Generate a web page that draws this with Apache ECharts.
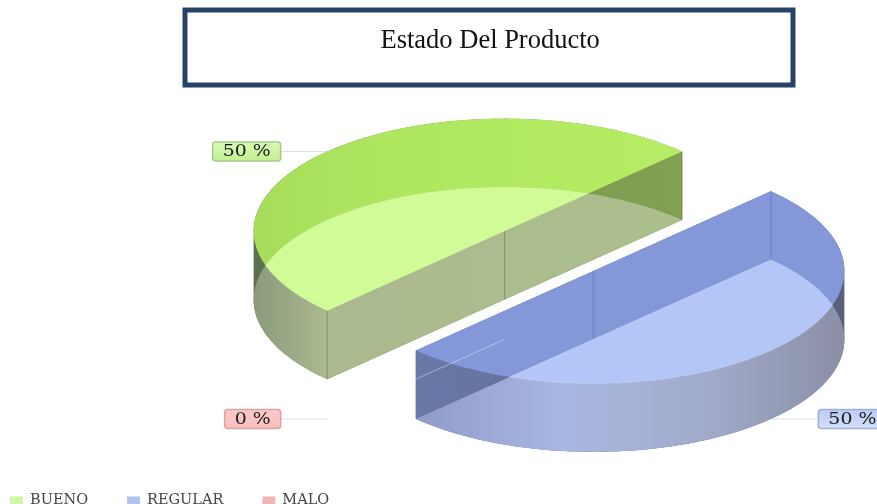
<!DOCTYPE html>
<html><head><meta charset="utf-8">
<script src="https://cdn.jsdelivr.net/npm/echarts@6/dist/echarts.min.js"></script>
<style>html,body{margin:0;padding:0;background:#fff}#c{width:877px;height:504px}</style>
</head><body><div id="c"></div>
<script>
const titleText = 'Estado Del Producto';
const categories = ['BUENO', 'REGULAR', 'MALO'];
const values = [50, 50, 0];
const swatchColors = ['#cdf7a0', '#b0c4f0', '#f3b6b6'];

// pie layout (not data)
const CX = 549, CY = 251, RX = 251, RY = 112.5, DEPTH = 68.5, EXPLODE = 0.25, START = 225;

const palettes = [
  { dark: [[0,'#5b6f4e'],[0.15,'#62784f'],[0.6,'#7e9c50'],[1,'#82a052']],
    top: [[0,'#a6dc5a'],[0.3,'#aee65f'],[1,'#b6ed64']],
    wall: [[0,'#8a9a7c'],[0.17,'#aab98e'],[1,'#adbf8d']],
    light: '#d1fb96', line: 'rgba(90,110,70,0.5)', rim: 'rgba(255,255,255,0.15)',
    box: [[0,'#d9fbb4'],[1,'#c3ef92']], boxBorder: '#a9c98a' },
  { dark: [[0,'#6a78a8'],[1,'#566078']],
    top: [[0,'#8497d8'],[1,'#8497d8']],
    wall: [[0,'#8f9cc8'],[0.35,'#a9b8e2'],[0.7,'#a0a9c8'],[1,'#8a8fa5']],
    light: '#b3c6f7', line: 'rgba(90,105,170,0.45)', rim: 'rgba(255,255,255,0.35)',
    box: [[0,'#bccbf4'],[1,'#d5dffa']], boxBorder: '#9fafd6' },
  { dark: [[0,'#eee'],[1,'#eee']], top: [[0,'#eee'],[1,'#eee']], wall: [[0,'#eee'],[1,'#eee']],
    light: '#eee', line: 'rgba(255,255,255,0.4)', rim: 'transparent',
    box: [[0,'#fbcaca'],[1,'#f8bdbd']], boxBorder: '#dda3a3' }
];

const total = values.reduce((a, b) => a + b, 0);
const rad = d => d * Math.PI / 180;

function sliceGeom(i) {
  const before = values.slice(0, i).reduce((a, b) => a + b, 0);
  const a0 = START - before / total * 360;
  const a1 = a0 - values[i] / total * 360;
  const mid = (a0 + a1) / 2;
  const c = [CX + EXPLODE * RX * Math.cos(rad(mid)), CY - EXPLODE * RY * Math.sin(rad(mid))];
  const at = (a, dy) => [c[0] + RX * Math.cos(rad(a)), c[1] - RY * Math.sin(rad(a)) + dy];
  const poly = dy => {
    const pts = [[c[0], c[1] + dy]];
    for (let k = 0; k <= 180; k++) pts.push(at(a0 + (a1 - a0) * k / 180, dy));
    return pts;
  };
  return { a0, a1, mid, c, at, top: poly(0), bottom: poly(DEPTH) };
}
function area(p) {
  let s = 0;
  for (let i = 0; i < p.length; i++) { const q = p[(i + 1) % p.length]; s += p[i][0] * q[1] - q[0] * p[i][1]; }
  return s;
}
function clipPoly(subject, clipper) {
  const sgn = area(clipper) > 0 ? 1 : -1;
  let out = subject;
  for (let i = 0; i < clipper.length; i++) {
    const A = clipper[i], B = clipper[(i + 1) % clipper.length];
    const side = P => sgn * ((B[0] - A[0]) * (P[1] - A[1]) - (B[1] - A[1]) * (P[0] - A[0]));
    const input = out; out = [];
    for (let j = 0; j < input.length; j++) {
      const P = input[j], Q = input[(j + 1) % input.length];
      const sp = side(P), sq = side(Q);
      if (sp >= 0) out.push(P);
      if ((sp >= 0) !== (sq >= 0)) { const t = sp / (sp - sq); out.push([P[0] + t * (Q[0] - P[0]), P[1] + t * (Q[1] - P[1])]); }
    }
    if (!out.length) break;
  }
  return out;
}
function hull(points) {
  const p = points.slice().sort((a, b) => a[0] - b[0] || a[1] - b[1]);
  const cross = (o, a, b) => (a[0] - o[0]) * (b[1] - o[1]) - (a[1] - o[1]) * (b[0] - o[0]);
  const lo = [], up = [];
  for (const q of p) { while (lo.length > 1 && cross(lo[lo.length - 2], lo[lo.length - 1], q) <= 0) lo.pop(); lo.push(q); }
  for (const q of p.reverse()) { while (up.length > 1 && cross(up[up.length - 2], up[up.length - 1], q) <= 0) up.pop(); up.push(q); }
  return lo.slice(0, -1).concat(up.slice(0, -1));
}
const hGrad = stops => new echarts.graphic.LinearGradient(0, 0, 1, 0, stops.map(s => ({ offset: s[0], color: s[1] })));
const vertical = (p, color) => ({ type: 'line', shape: { x1: p[0], y1: p[1], x2: p[0], y2: p[1] + DEPTH }, style: { stroke: color, lineWidth: 1 }, silent: true });

function renderSlice(i, api) {
  const g = sliceGeom(i), pal = palettes[i], kids = [];
  const onTop = Math.sin(rad(g.mid)) > 0;
  const anchor = g.at(g.mid, onTop ? 0 : DEPTH);
  const dir = Math.cos(rad(g.mid)) < 0 ? -1 : 1;
  const text = api.value(0) + ' %';
  const boxW = text.length > 3 ? 68 : 56;
  const boxX = dir < 0 ? anchor[0] - 47 - boxW : anchor[0] + 47;
  kids.push({ type: 'line', shape: { x1: anchor[0], y1: anchor[1], x2: anchor[0] + dir * 47, y2: anchor[1] }, style: { stroke: '#ddd', lineWidth: 1 } });
  if (values[i] > 0) {
    kids.push({ type: 'polygon', shape: { points: hull(g.top.concat(g.bottom)) }, style: { fill: hGrad(pal.dark) } });
    kids.push({ type: 'polygon', shape: { points: g.top }, style: { fill: hGrad(pal.top) } });
    kids.push({ type: 'polygon', shape: { points: g.bottom }, style: { fill: hGrad(pal.wall) } });
    kids.push({ type: 'polygon', shape: { points: clipPoly(g.top, g.bottom) }, style: { fill: pal.light, stroke: pal.rim, lineWidth: 0.5 } });
    kids.push(vertical(g.c, pal.line), vertical(g.at(g.a0, 0), pal.line), vertical(g.at(g.a1, 0), pal.line));
  } else {
    kids.push({ type: 'line', shape: { x1: g.c[0], y1: g.c[1] + DEPTH, x2: anchor[0], y2: anchor[1] }, style: { stroke: pal.line, lineWidth: 1 } });
  }
  kids.push({ type: 'rect', shape: { x: boxX + 0.5, y: anchor[1] - 9.5, width: boxW, height: 19, r: 3 },
    style: { fill: new echarts.graphic.LinearGradient(0, 0, 0, 1, pal.box.map(s => ({ offset: s[0], color: s[1] }))), stroke: pal.boxBorder, lineWidth: 1.5 } });
  kids.push({ type: 'text', x: boxX + boxW / 2 + 0.5, y: anchor[1] + 0.5, scaleX: 1.18,
    style: { text, font: '16px "DejaVu Serif"', fill: '#1a1a1a', align: 'center', verticalAlign: 'middle' } });
  return { type: 'group', children: kids };
}

const chart = echarts.init(document.getElementById('c'), null, { renderer: 'canvas' });
chart.setOption({
  animation: false,
  backgroundColor: '#fff',
  title: {
    text: titleText, left: 184.5, top: 11.5,
    padding: [18, 193.5, 30, 196],
    borderColor: '#264268', borderWidth: 5, backgroundColor: '#fff',
    textStyle: { fontFamily: '"Liberation Serif"', fontSize: 26.5, lineHeight: 24, fontWeight: 'normal', color: '#111' }
  },
  legend: {
    left: 5, top: 488, itemWidth: 13, itemHeight: 8, itemGap: 39,
    icon: 'rect', data: categories,
    textStyle: { fontFamily: '"DejaVu Serif"', fontSize: 14.5, color: '#444', padding: [0, 0, 0, 2] }
  },
  series: categories.map((name, i) => ({
    type: 'custom', name, coordinateSystem: 'none',
    itemStyle: { color: swatchColors[i] },
    data: [[values[i]]],
    renderItem: (params, api) => renderSlice(i, api)
  }))
});
</script></body></html>
